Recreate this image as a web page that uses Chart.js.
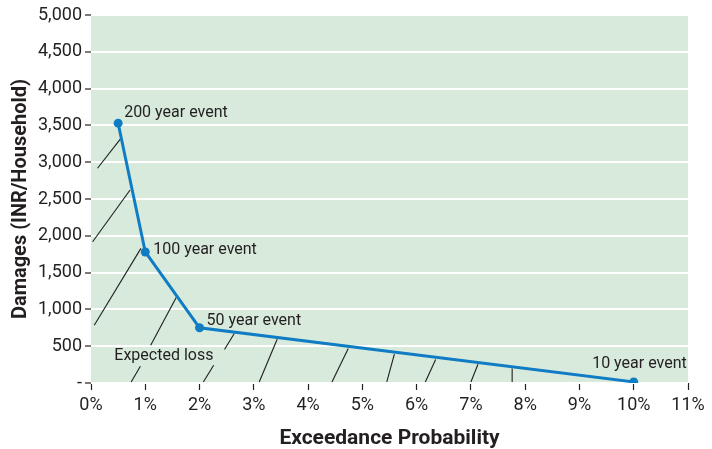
<!DOCTYPE html>
<html>
<head>
<meta charset="utf-8">
<script src="https://cdn.jsdelivr.net/npm/chart.js@4.4.1/dist/chart.umd.min.js"></script>
<style>
html,body{margin:0;padding:0;background:#ffffff;}
#wrap{width:712px;height:449px;position:relative;}
</style>
</head>
<body>
<div id="wrap"><canvas id="c" width="712" height="449"></canvas></div>
<script>
// ---- data ----
const probabilities = [0.5, 1, 2, 10];          // exceedance probability (%)
const damages = [3530, 1780, 750, 15];          // INR per household
const eventLabels = ['200 year event', '100 year event', '50 year event', '10 year event'];
const xTicks = [0,1,2,3,4,5,6,7,8,9,10,11];
const yTicks = [0,500,1000,1500,2000,2500,3000,3500,4000,4500,5000];
// hatch strokes under the curve: [x1, y1, x2, y2] in data units
const hatchSegments = [
  [0.12, 2918, 0.54, 3313],
  [0.03, 1919, 0.72, 2623],
  [0.06, 785, 0.92, 1829],
  [0.74, 14, 0.91, 227],
  [1.10, 513, 1.57, 1162],
  [2.07, 14, 2.26, 241],
  [2.46, 455, 2.64, 672],
  [3.10, 14, 3.43, 595],
  [4.44, 14, 4.74, 468],
  [5.45, 14, 5.59, 391],
  [6.16, 14, 6.35, 318],
  [7.00, 14, 7.13, 255],
  [7.76, 14, 7.76, 196]
];
const expectedLossLabel = {text: 'Expected loss', x: 0.43, y: 363};

const FONT = "Roboto, 'Liberation Sans', sans-serif";
const TEXT = '#231f20';
const BLUE = '#0f7cc3';

const mainData = probabilities.map((p, i) => ({x: p, y: damages[i]}));
const hatchDatasets = hatchSegments.map(s => ({
  type: 'line',
  data: [{x: s[0], y: s[1]}, {x: s[2], y: s[3]}],
  borderColor: '#1e1e1e',
  borderWidth: 1.1,
  pointRadius: 0,
  fill: false,
  tension: 0
}));

const bgPlugin = {
  id: 'bg',
  beforeDraw(chart) {
    const {ctx, chartArea: a} = chart;
    ctx.save();
    ctx.fillStyle = '#d7eadc';
    ctx.fillRect(a.left, a.top, a.right - a.left, a.bottom - a.top);
    ctx.restore();
  }
};

const labelOffsets = [
  {dx: 6, dy: -10, align: 'left'},
  {dx: 8, dy: -2, align: 'left'},
  {dx: 7, dy: -7, align: 'left'},
  {dx: 53, dy: -18, align: 'right'}
];

const labelPlugin = {
  id: 'labels',
  afterDatasetsDraw(chart) {
    const {ctx, scales} = chart;
    ctx.save();
    ctx.font = "16px " + FONT;
    ctx.fillStyle = TEXT;
    ctx.textBaseline = 'middle';
    probabilities.forEach((p, i) => {
      const o = labelOffsets[i];
      ctx.textAlign = o.align;
      ctx.fillText(eventLabels[i], scales.x.getPixelForValue(p) + o.dx, scales.y.getPixelForValue(damages[i]) + o.dy);
    });
    ctx.textAlign = 'left';
    ctx.fillText(expectedLossLabel.text, scales.x.getPixelForValue(expectedLossLabel.x), scales.y.getPixelForValue(expectedLossLabel.y));
    ctx.restore();
  }
};

new Chart(document.getElementById('c'), {
  type: 'line',
  data: {
    datasets: [{
      label: 'Damages',
      data: mainData,
      borderColor: BLUE,
      backgroundColor: BLUE,
      borderWidth: 3,
      pointRadius: 4.5,
      pointBackgroundColor: BLUE,
      pointBorderWidth: 0,
      tension: 0,
      fill: false
    }, ...hatchDatasets]
  },
  options: {
    responsive: false,
    animation: false,
    devicePixelRatio: 1,
    layout: {padding: {top: 15, right: 24, left: 0, bottom: 0}},
    plugins: {legend: {display: false}, tooltip: {enabled: false}},
    scales: {
      x: {
        type: 'linear',
        min: 0, max: 11,
        afterBuildTicks: s => { s.ticks = xTicks.map(v => ({value: v})); },
        afterFit: s => { s.height = 66; },
        border: {display: false},
        grid: {drawOnChartArea: false, tickLength: 7, tickColor: '#222', tickWidth: 1.2},
        ticks: {
          color: TEXT, padding: 5, maxRotation: 0,
          font: {family: FONT, size: 18},
          callback: v => v + '%'
        },
        title: {
          display: true, text: 'Exceedance Probability', color: TEXT,
          font: {family: FONT, size: 21, weight: 'bold', lineHeight: 1},
          padding: {top: 0, bottom: 0}
        }
      },
      y: {
        min: 0, max: 5000,
        afterBuildTicks: s => { s.ticks = yTicks.map(v => ({value: v})); },
        afterFit: s => { s.width = 91; },
        border: {display: false},
        grid: {color: '#ffffff', lineWidth: 2, tickLength: 6, tickColor: '#222', tickWidth: 1.2},
        ticks: {
          color: TEXT, padding: 3,
          font: {family: FONT, size: 18},
          callback: v => v === 0 ? '-' : v.toLocaleString('en-US')
        },
        title: {
          display: true, text: 'Damages (INR/Household)', color: TEXT,
          font: {family: FONT, size: 20, weight: 'bold', lineHeight: 1},
          padding: {top: 11, bottom: 0}
        }
      }
    }
  },
  plugins: [bgPlugin, labelPlugin]
});
</script>
</body>
</html>
